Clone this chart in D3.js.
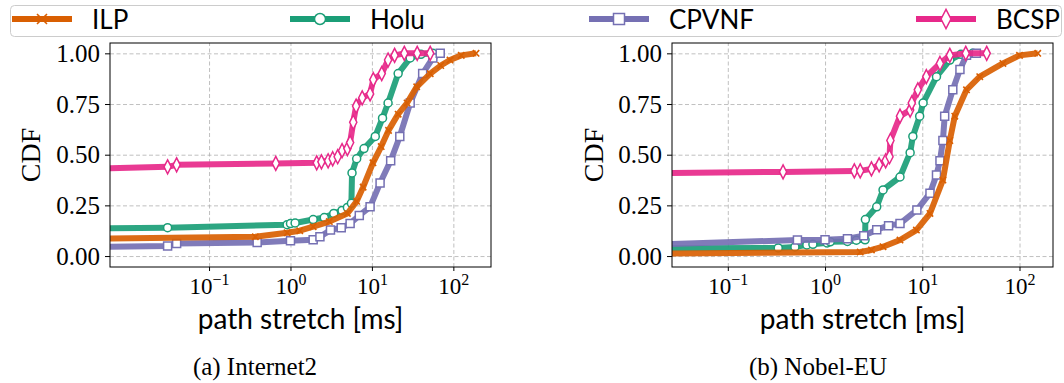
<!DOCTYPE html>
<html>
<head>
<meta charset="utf-8">
<script src="https://cdn.jsdelivr.net/npm/d3@7"></script>
<style>
  body { margin: 0; background: #fff; }
  svg { display: block; }
  .axis text { font-family: 'Liberation Serif', serif; fill: #000; }
  .grid line { stroke: #b0b0b0; stroke-width: 0.8; stroke-dasharray: 4,2.5; }
  .grid path { display: none; }
</style>
</head>
<body>
<svg id="chart" width="1064" height="383"></svg>
<script>
const seriesNames = ['ILP', 'Holu', 'CPVNF', 'BCSP'];
const seriesColors = ['#d95f02', '#1b9e77', '#7570b3', '#e7298a'];
const seriesMarkers = ['x', 'circle', 'square', 'diamond'];
const drawOrder = [1, 2, 0, 3];
const yTicks = [0, 0.25, 0.5, 0.75, 1];
const xTicks = [0.1, 1, 10, 100];
const captions = ['(a) Internet2', '(b) Nobel-EU'];
const xLabel = 'path stretch [ms]';
const yLabel = 'CDF';

// [path stretch (ms), CDF]  -- 0 sits on the clipped left edge of the log axis
const internet2ILP = [[0, 0.087], [0.37, 0.095], [0.91, 0.115], [1.3, 0.125], [1.9, 0.145], [3.0, 0.17], [5.0, 0.21], [6.5, 0.27], [7.8, 0.34], [10.3, 0.46], [13, 0.54], [16, 0.62], [21, 0.70], [27, 0.755], [35.5, 0.835], [52, 0.90], [70, 0.94], [91, 0.967], [125, 0.99], [190, 1.0]];
const internet2Holu = [[0, 0.137], [0.031, 0.14], [0.91, 0.155], [1.0, 0.16], [1.14, 0.163], [1.9, 0.18], [2.6, 0.19], [3.4, 0.21], [4.3, 0.225], [5.0, 0.24], [5.6, 0.26], [5.7, 0.41], [6.5, 0.48], [8.0, 0.53], [11, 0.59], [13.5, 0.68], [15.8, 0.755], [21, 0.90], [29.5, 0.977], [40, 0.995], [56, 1.0]];
const internet2CPVNF = [[0, 0.046], [0.031, 0.05], [0.040, 0.062], [0.39, 0.067], [1.0, 0.075], [1.9, 0.08], [2.3, 0.095], [3.1, 0.128], [4.2, 0.14], [5.4, 0.16], [7.0, 0.2], [9.5, 0.243], [12.6, 0.36], [17, 0.47], [22, 0.59], [29.5, 0.755], [42, 0.90], [56, 0.977], [69, 1.0]];
const internet2BCSP = [[0, 0.433], [0.031, 0.44], [0.040, 0.45], [0.66, 0.457], [2.1, 0.46], [2.4, 0.465], [2.9, 0.47], [3.3, 0.48], [3.8, 0.49], [4.3, 0.52], [5.0, 0.53], [5.4, 0.56], [5.9, 0.66], [6.4, 0.74], [7.6, 0.78], [9.5, 0.80], [10.4, 0.87], [13.2, 0.90], [15.8, 0.967], [19, 0.99], [25, 1.0], [36, 1.0], [52, 1.0]];

const nobelILP = [[0, 0.013], [2.3, 0.02], [3.0, 0.03], [3.95, 0.046], [5.9, 0.079], [8.7, 0.128], [12, 0.21], [16.3, 0.375], [19.2, 0.57], [21.6, 0.69], [28.5, 0.82], [39, 0.885], [67.5, 0.95], [100, 0.99], [154, 1.0]];
const nobelHolu = [[0, 0.038], [0.33, 0.04], [0.49, 0.045], [0.65, 0.055], [0.75, 0.058], [1.05, 0.065], [1.13, 0.07], [1.7, 0.072], [2.1, 0.078], [2.58, 0.08], [2.6, 0.18], [3.4, 0.243], [3.95, 0.326], [5.9, 0.39], [7.5, 0.51], [8.0, 0.59], [9.4, 0.69], [10.2, 0.755], [14, 0.885], [19.2, 0.967], [25, 0.995], [33, 1.0]];
const nobelCPVNF = [[0, 0.059], [0.52, 0.079], [1.0, 0.08], [1.7, 0.085], [2.5, 0.1], [3.4, 0.13], [4.5, 0.15], [5.9, 0.16], [8.8, 0.227], [12, 0.31], [14, 0.40], [15.2, 0.47], [16.3, 0.57], [17, 0.69], [20.6, 0.82], [24.4, 0.92], [28.5, 0.99], [36, 1.0]];
const nobelBCSP = [[0, 0.41], [0.37, 0.415], [2.0, 0.42], [2.3, 0.42], [3.0, 0.43], [3.6, 0.45], [4.2, 0.47], [4.6, 0.49], [4.7, 0.57], [5.9, 0.69], [7.5, 0.72], [7.8, 0.755], [9.0, 0.82], [11, 0.885], [15.2, 0.95], [19.2, 0.99], [28, 1.0], [46, 1.0]];

const panels = [
  { series: [internet2ILP, internet2Holu, internet2CPVNF, internet2BCSP], caption: captions[0],
    left: 110, right: 491, xDomain: [0.00608, 290], ylabelX: 30, captionX: 255 },
  { series: [nobelILP, nobelHolu, nobelCPVNF, nobelBCSP], caption: captions[1],
    left: 672, right: 1053, xDomain: [0.02667, 221], ylabelX: 593, captionX: 818 }
];
const plotTop = 43, plotBottom = 267;

const svg = d3.select('#chart');

function markerPath(type, s) {
  if (type === 'x') return `M${-s},${-s}L${s},${s}M${-s},${s}L${s},${-s}`;
  if (type === 'circle') return d3.symbol().type(d3.symbolCircle).size(Math.PI * s * s)();
  if (type === 'square') return `M${-s},${-s}H${s}V${s}H${-s}Z`;
  // thin diamond like matplotlib 'd'
  return `M0,${-s * 1.75}L${s * 0.9},0L0,${s * 1.75}L${-s * 0.9},0Z`;
}

function drawMarker(g, type, color, s) {
  g.append('path')
    .attr('d', markerPath(type, s))
    .attr('fill', type === 'x' ? 'none' : '#fff')
    .attr('stroke', color)
    .attr('stroke-width', type === 'x' ? 1.6 : 1.5);
}

function drawPanel(p) {
  const xScale = d3.scaleLog().domain(p.xDomain).range([p.left, p.right]);
  const yScale = d3.scaleLinear().domain([-0.054, 1.051]).range([plotBottom, plotTop]);
  const g = svg.append('g');

  // grid
  g.append('g').attr('class', 'grid')
    .attr('transform', `translate(0,${plotBottom})`)
    .call(d3.axisBottom(xScale).tickValues(xTicks).tickSize(-(plotBottom - plotTop)).tickFormat(''));
  g.append('g').attr('class', 'grid')
    .attr('transform', `translate(${p.left},0)`)
    .call(d3.axisLeft(yScale).tickValues(yTicks).tickSize(-(p.right - p.left)).tickFormat(''));

  const clipId = 'clip' + p.left;
  g.append('clipPath').attr('id', clipId)
    .append('rect').attr('x', p.left).attr('y', plotTop).attr('width', p.right - p.left).attr('height', plotBottom - plotTop);

  const line = d3.line()
    .x(d => d[0] > 0 ? xScale(d[0]) : p.left - 2)
    .y(d => yScale(d[1]));

  const plot = g.append('g').attr('clip-path', `url(#${clipId})`);
  drawOrder.forEach(i => {
    const data = p.series[i];
    plot.append('path')
      .datum(data)
      .attr('d', line)
      .attr('fill', 'none')
      .attr('stroke', seriesColors[i])
      .attr('stroke-width', 6)
      .attr('stroke-linejoin', 'round')
      .attr('opacity', 0.92);
    const size = seriesMarkers[i] === 'x' ? 3.2 : 4;
    plot.selectAll(null)
      .data(data.filter(d => d[0] > 0))
      .enter()
      .append('g')
      .attr('transform', d => `translate(${xScale(d[0])},${yScale(d[1])})`)
      .each(function () { drawMarker(d3.select(this), seriesMarkers[i], seriesColors[i], size); });
  });

  // frame
  g.append('rect')
    .attr('x', p.left).attr('y', plotTop)
    .attr('width', p.right - p.left).attr('height', plotBottom - plotTop)
    .attr('fill', 'none').attr('stroke', '#000').attr('stroke-width', 1);

  // axes
  const yAxis = g.append('g').attr('class', 'axis')
    .attr('transform', `translate(${p.left},0)`)
    .call(d3.axisLeft(yScale).tickValues(yTicks).tickSize(5).tickPadding(5).tickFormat(d3.format('.2f')));
  yAxis.select('.domain').remove();
  yAxis.selectAll('text').attr('font-size', 25);

  const xAxis = g.append('g').attr('class', 'axis')
    .attr('transform', `translate(0,${plotBottom})`)
    .call(d3.axisBottom(xScale).tickValues(xTicks).tickSize(4).tickPadding(7));
  xAxis.select('.domain').remove();
  xAxis.selectAll('.tick text').each(function (d) {
    const t = d3.select(this).text('').attr('font-size', 23);
    t.append('tspan').text('10');
    t.append('tspan').attr('dy', -9).attr('font-size', 16)
      .text(String(Math.round(Math.log10(d))).replace('-', '\u2212'));
  });

  g.append('text')
    .attr('x', (p.left + p.right) / 2).attr('y', 329)
    .attr('text-anchor', 'middle')
    .style('font-family', 'Lato, sans-serif').style('font-size', '28px')
    .text(xLabel);

  g.append('text')
    .attr('transform', `translate(${p.ylabelX + 10},${(plotTop + plotBottom) / 2}) rotate(-90)`)
    .attr('text-anchor', 'middle')
    .style('font-family', "'Liberation Serif', serif").style('font-size', '28px')
    .text(yLabel);

  g.append('text')
    .attr('x', p.captionX).attr('y', 375)
    .attr('text-anchor', 'middle')
    .style('font-family', "'Liberation Serif', serif").style('font-size', '25px')
    .text(p.caption);
}

panels.forEach(drawPanel);

// legend
const legendItems = [
  { x: 12 }, { x: 290 }, { x: 589 }, { x: 916 }
];
const legend = svg.append('g').attr('class', 'legends');
legend.append('rect')
  .attr('x', 10.5).attr('y', 5.5).attr('width', 1051).attr('height', 31)
  .attr('rx', 4)
  .attr('fill', '#fff').attr('fill-opacity', 0.8)
  .attr('stroke', '#cccccc').attr('stroke-width', 1);
seriesNames.forEach((name, i) => {
  const lx = legendItems[i].x;
  const item = legend.append('g');
  item.append('line')
    .attr('x1', lx).attr('x2', lx + 60).attr('y1', 19).attr('y2', 19)
    .attr('stroke', seriesColors[i]).attr('stroke-width', 6);
  const m = item.append('g').attr('transform', `translate(${lx + 30},19)`);
  drawMarker(m, seriesMarkers[i], seriesColors[i], seriesMarkers[i] === 'x' ? 5 : 5.5);
  item.append('text')
    .attr('x', lx + 80).attr('y', 29)
    .style('font-family', 'Lato, sans-serif').style('font-size', '26px')
    .attr('fill', '#000')
    .text(name);
});
</script>
</body>
</html>
